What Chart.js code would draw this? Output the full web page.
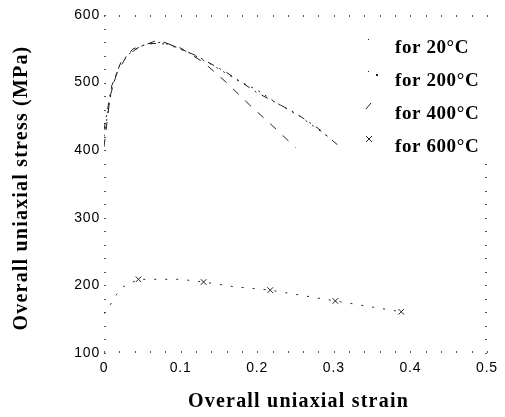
<!DOCTYPE html>
<html>
<head>
<meta charset="utf-8">
<script src="https://cdn.jsdelivr.net/npm/chart.js@4.4.0/dist/chart.umd.min.js"></script>
<style>
  html, body { margin: 0; padding: 0; background: #fff; }
  #wrap { width: 505px; height: 417px; }
</style>
</head>
<body>
<div id="wrap"><canvas id="stressChart"></canvas></div>
<script>
// curves (strain, stress in MPa)
const strain20 = [0, 0.008, 0.017, 0.03, 0.045, 0.07, 0.1, 0.13, 0.16, 0.19, 0.22, 0.25];
const stress20 = [405, 480, 515, 540, 552, 563, 551, 530, 500, 467, 436, 404];

const strain200 = [0, 0.01, 0.02, 0.035, 0.05, 0.075, 0.11, 0.14, 0.175, 0.2, 0.225, 0.256, 0.29];
const stress200 = [420, 490, 525, 545, 555, 560, 545, 527, 503, 489, 470, 450, 422];

const strain400 = [0, 0.01, 0.022, 0.038, 0.06, 0.085, 0.12, 0.16, 0.2, 0.25, 0.28, 0.31];
const stress400 = [430, 495, 530, 550, 558, 557, 540, 515, 485, 455, 432, 403];

const strain600 = [0, 0.008, 0.016, 0.025, 0.045, 0.1, 0.13, 0.17, 0.217, 0.302, 0.35, 0.388];
const stress600 = [158, 171, 186, 198, 209, 209, 205, 198, 193, 177, 168, 161];

// points where the x markers sit on the 600 curve
const markStrain600 = [0.045, 0.13, 0.217, 0.302, 0.388];
const markStress600 = [209, 205, 193, 177, 161];

const xTicks = [0, 0.1, 0.2, 0.3, 0.4, 0.5];
const yTicks = [100, 200, 300, 400, 500, 600];
const legendLabels = ["for 20\u00B0C", "for 200\u00B0C", "for 400\u00B0C", "for 600\u00B0C"];
const xTitle = "Overall uniaxial strain";
const yTitle = "Overall uniaxial stress (MPa)";

const toPoints = (xs, ys) => xs.map((v, i) => ({ x: v, y: ys[i] }));

const ink = "#222";
const serif = "'Liberation Serif', 'Times New Roman', serif";
const sans = "'Liberation Sans', Arial, sans-serif";

// the scan's lettering is a bit wider than the fonts we have
const spacing = {
  id: "spacing",
  beforeDraw(chart) { chart.ctx.letterSpacing = "0.8px"; }
};

// small dotted ticks on all four sides, like the scanned frame
const tickDots = {
  id: "tickDots",
  beforeDatasetsDraw(chart) {
    const { ctx, chartArea: a, scales: { x, y } } = chart;
    ctx.save();
    ctx.fillStyle = "#555";
    for (let v = 0; v <= 0.5001; v += 0.02) {
      const px = Math.round(x.getPixelForValue(v));
      ctx.fillRect(px, a.bottom - 2, 1, 2);
      ctx.fillRect(px, a.top, 1, 2);
    }
    for (let v = 100; v <= 600.1; v += 20) {
      const py = Math.round(y.getPixelForValue(v));
      ctx.fillRect(a.left, py, 2, 1);
      if (v <= 380) ctx.fillRect(a.right - 2, py, 2, 1);
    }
    ctx.restore();
  }
};

// legend key marks, as faint as they come out in the scan
function drawKey(ctx, i, mx, my) {
  ctx.fillStyle = ink;
  ctx.strokeStyle = ink;
  ctx.lineWidth = 1;
  ctx.beginPath();
  if (i === 0) {
    ctx.fillRect(mx - 1, my - 3, 1, 1);
  } else if (i === 1) {
    ctx.fillRect(mx - 1, my - 4, 1, 1);
    ctx.fillRect(mx + 7, my - 1, 2, 2);
  } else if (i === 2) {
    ctx.moveTo(mx - 3, my + 1);
    ctx.lineTo(mx + 2, my - 5);
  } else {
    ctx.moveTo(mx - 3, my - 5); ctx.lineTo(mx + 3, my + 1);
    ctx.moveTo(mx + 3, my - 5); ctx.lineTo(mx - 3, my + 1);
  }
  ctx.stroke();
}

// axis titles and the legend inside the plot, upper right
const labelsPlugin = {
  id: "labelsPlugin",
  afterDatasetsDraw(chart) {
    const { ctx, chartArea: a } = chart;
    ctx.save();
    ctx.fillStyle = "#000";
    ctx.textAlign = "center";
    ctx.textBaseline = "middle";
    ctx.letterSpacing = "1.2px";
    ctx.font = "bold 20px " + serif;
    ctx.fillText(xTitle, (a.left + a.right) / 2 + 3, a.bottom + 49);
    ctx.translate(22, (a.top + a.bottom) / 2 + 4);
    ctx.rotate(-Math.PI / 2);
    ctx.fillText(yTitle, 0, 0);
    ctx.restore();

    const tx = a.right - 92;
    const mx = a.right - 118;
    ctx.save();
    legendLabels.forEach((label, i) => {
      const ty = a.top + 33 + i * 33;
      drawKey(ctx, i, mx, ty - 6);
      ctx.fillStyle = "#000";
      ctx.letterSpacing = "0.6px";
      ctx.font = "bold 19px " + serif;
      ctx.textAlign = "left";
      ctx.textBaseline = "middle";
      ctx.fillText(label, tx, ty);
    });
    ctx.restore();
  }
};

new Chart(document.getElementById("stressChart"), {
  type: "scatter",
  data: {
    datasets: [
      {
        label: legendLabels[0],
        data: toPoints(strain20, stress20),
        showLine: true,
        borderColor: ink,
        borderWidth: 1,
        borderDash: [8, 9],
        pointRadius: 0
      },
      {
        label: legendLabels[1],
        data: toPoints(strain200, stress200),
        showLine: true,
        borderColor: ink,
        borderWidth: 1,
        borderDash: [2, 6],
        pointRadius: 0
      },
      {
        label: legendLabels[2],
        data: toPoints(strain400, stress400),
        showLine: true,
        borderColor: ink,
        borderWidth: 1,
        borderDash: [7, 6, 2, 6],
        pointRadius: 0
      },
      {
        label: legendLabels[3],
        data: toPoints(strain600, stress600),
        showLine: true,
        borderColor: ink,
        borderWidth: 1,
        borderDash: [2, 9],
        pointRadius: 0
      },
      {
        label: "600 markers",
        data: toPoints(markStrain600, markStress600),
        showLine: false,
        pointStyle: "crossRot",
        pointRadius: 4,
        pointBorderColor: ink,
        pointBorderWidth: 1
      }
    ]
  },
  options: {
    responsive: true,
    maintainAspectRatio: false,
    animation: false,
    layout: { padding: { left: 0, right: 18, top: 15, bottom: 0 } },
    plugins: {
      legend: { display: false },
      tooltip: { enabled: false }
    },
    scales: {
      x: {
        type: "linear",
        min: 0,
        max: 0.5,
        afterBuildTicks: s => { s.ticks = xTicks.map(v => ({ value: v })); },
        afterFit: s => { s.height = 64; },
        grid: { display: false, drawTicks: false, tickLength: 0 },
        border: { display: false },
        ticks: {
          color: "#000",
          padding: 7,
          maxRotation: 0,
          font: { family: sans, size: 14 }
        }
      },
      y: {
        min: 100,
        max: 600,
        afterBuildTicks: s => { s.ticks = yTicks.map(v => ({ value: v })); },
        afterFit: s => { s.width = 104; },
        grid: { display: false, drawTicks: false, tickLength: 0 },
        border: { display: false },
        ticks: {
          color: "#000",
          padding: 4,
          font: { family: sans, size: 14 }
        }
      }
    }
  },
  plugins: [spacing, tickDots, labelsPlugin]
});
</script>
</body>
</html>
